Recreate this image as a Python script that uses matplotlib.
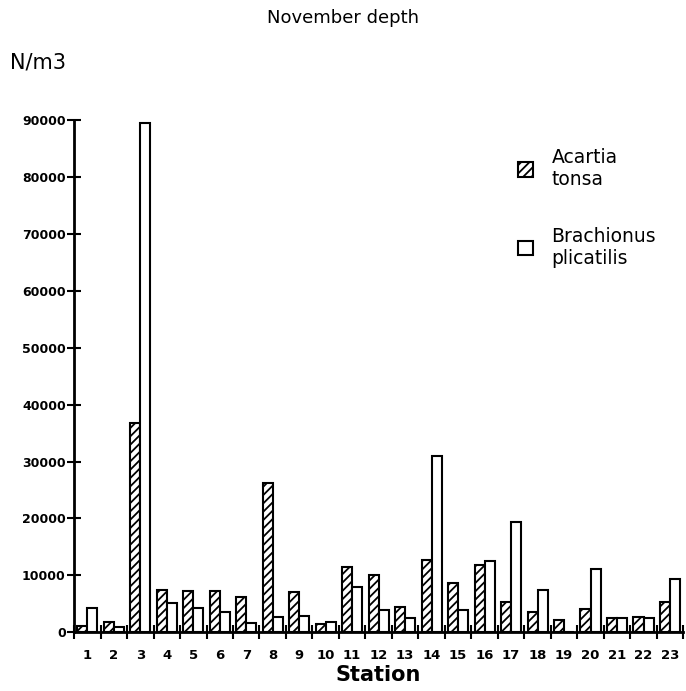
import matplotlib.pyplot as plt
from matplotlib.patches import Patch
import numpy as np

stations = [str(i) for i in range(1, 24)]
acartia = [1100, 1800, 36700, 7500, 7300, 7300, 6200, 26300, 7000, 1400,
           11500, 10000, 4500, 12700, 8700, 11900, 5400, 3500, 2200, 4100,
           2450, 2600, 5300]
brachionus = [4200, 900, 89500, 5100, 4200, 3600, 1700, 2600, 2900, 1750,
              7900, 3900, 2500, 30900, 3900, 12500, 19300, 7500, 0, 11100,
              2450, 2450, 9300]
yticks = [0, 10000, 20000, 30000, 40000, 50000, 60000, 70000, 80000, 90000]

plt.rcParams['font.family'] = 'DejaVu Sans'
plt.rcParams['hatch.linewidth'] = 1.3

fig = plt.figure(figsize=(6.86, 6.91), dpi=100)
ax = fig.add_axes([0.108, 0.085, 0.888, 0.741])

x = np.arange(len(stations))
w = 0.38
ax.bar(x - w / 2, acartia, w, color='white', edgecolor='black', hatch='////', linewidth=1.5)
ax.bar(x + w / 2, brachionus, w, color='white', edgecolor='black', linewidth=1.5)

ax.set_xlim(-0.5, len(stations) - 0.5)
ax.set_ylim(0, 90000)
ax.set_yticks(yticks)
ax.set_yticklabels([str(v) for v in yticks], fontsize=9, fontweight='bold')
ax.set_xticks(x)
ax.set_xticklabels(stations, fontsize=9.5, fontweight='bold')
ax.tick_params(axis='x', length=0, pad=12)
ax.set_xticks(np.arange(len(stations) + 1) - 0.5, minor=True)
ax.tick_params(axis='x', which='minor', length=10, width=1.5, direction='inout')
ax.tick_params(axis='y', length=10, width=1.5, direction='inout', pad=1)

for s in ['top', 'right']:
    ax.spines[s].set_visible(False)
ax.spines['left'].set_linewidth(2)
ax.spines['bottom'].set_linewidth(2)

ax.set_xlabel('Station', fontsize=15, fontweight='bold', labelpad=2)
fig.text(0.5, 0.974, 'November depth', ha='center', va='center', fontsize=13)
fig.text(0.015, 0.91, 'N/m3', ha='left', va='center', fontsize=15)

handles = [Patch(facecolor='white', edgecolor='black', hatch='////', linewidth=1.5),
           Patch(facecolor='white', edgecolor='black', linewidth=1.5)]
ax.legend(handles, ['Acartia\ntonsa', 'Brachionus\nplicatilis'],
          loc='upper left', bbox_to_anchor=(0.73, 0.81), bbox_transform=fig.transFigure,
          frameon=False, fontsize=13.5, labelspacing=2.0, handlelength=0.8,
          handleheight=0.8, handletextpad=1.0)

fig.savefig('out.png', dpi=100)
